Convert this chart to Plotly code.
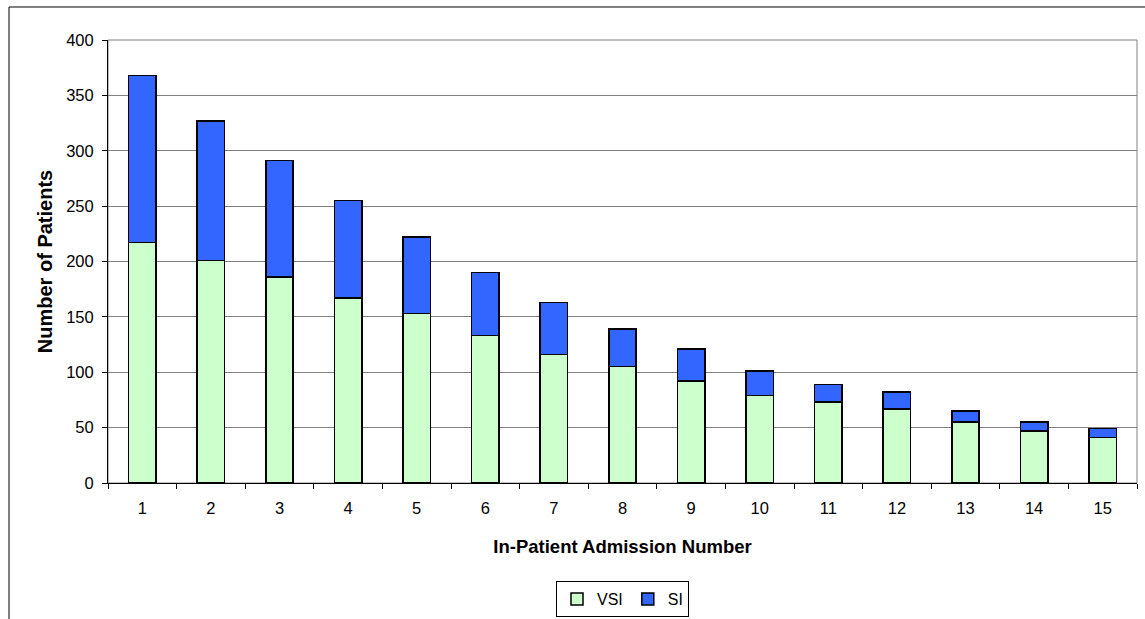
import plotly.graph_objects as go

categories = [str(i) for i in range(1, 16)]
vsi = [217, 201, 186, 167, 153, 133, 116, 105, 92, 79, 73, 67, 55, 47, 41]
totals = [368, 327, 291, 255, 222, 190, 163, 139, 121, 101, 89, 82, 65, 55, 49]
si = [t - v for t, v in zip(totals, vsi)]
y_ticks = [0, 50, 100, 150, 200, 250, 300, 350, 400]

FONT = "Liberation Sans, Arial, sans-serif"

fig = go.Figure()
fig.add_trace(go.Bar(x=categories, y=vsi, name="VSI",
                     marker=dict(color="#CCFFCC", line=dict(color="black", width=1.5))))
fig.add_trace(go.Bar(x=categories, y=si, name="SI",
                     marker=dict(color="#3366FF", line=dict(color="black", width=1.5))))

fig.update_layout(
    width=1145, height=619,
    margin=dict(l=108, r=8, t=40, b=136, autoexpand=False),
    barmode="stack", bargap=0.6,
    plot_bgcolor="white", paper_bgcolor="white",
    font=dict(family=FONT, size=16, color="black"),
    showlegend=True,
    legend=dict(orientation="h", x=0.5, xanchor="center", y=-0.262, yanchor="middle",
                traceorder="normal", bordercolor="black", borderwidth=1,
                font=dict(size=16), itemwidth=30, bgcolor="white"),
    xaxis=dict(type="category", showline=True, linecolor="black", linewidth=1,
               ticks="outside", tickson="boundaries", ticklen=5, tickcolor="black",
               showgrid=False, automargin=False, tickfont=dict(size=16.5),
               ticklabelstandoff=10,
               title=dict(text="<b>In-Patient Admission Number</b>", font=dict(size=18.5), standoff=24)),
    yaxis=dict(range=[0, 400], tickvals=y_ticks, showline=True, linecolor="black",
               linewidth=1, ticks="outside", ticklen=5, tickcolor="black",
               showgrid=True, gridcolor="#808080", gridwidth=1, zeroline=False,
               automargin=False, tickfont=dict(size=16.5), ticklabelstandoff=5,
               title=dict(text="<b>Number of Patients</b>", font=dict(size=20), standoff=8)),
    shapes=[
        dict(type="rect", xref="paper", yref="paper", x0=0, x1=1, y0=0, y1=1,
             line=dict(color="#808080", width=1), layer="below"),
        dict(type="rect", xref="paper", yref="paper", x0=-0.0962, x1=1.2, y0=-0.5, y1=1.0745,
             line=dict(color="black", width=1), layer="below"),
    ],
)

fig.write_html("out.html", config={"displayModeBar": False},
               post_script="document.body.style.margin='0';document.body.style.overflow='hidden';")
